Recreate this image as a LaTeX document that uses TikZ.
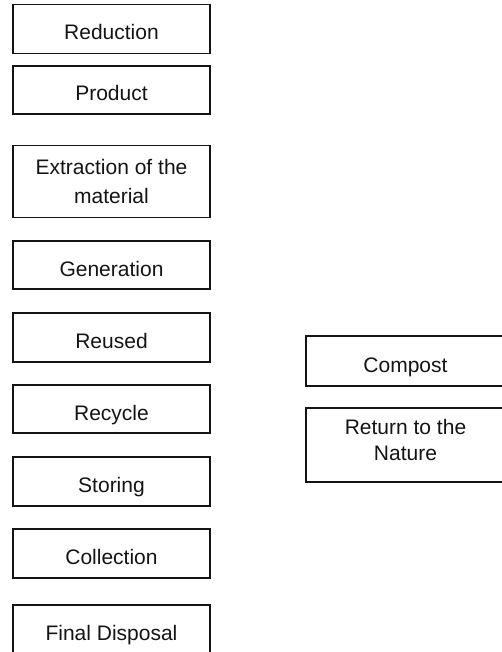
\documentclass[tikz,border=0pt]{standalone}
\usepackage{fontspec}
\setmainfont{Liberation Sans}
\begin{document}
\begin{tikzpicture}[x=1pt,y=-1pt,
  stage/.style={draw=black!92, line width=1.6pt, inner sep=0pt,
    minimum width=197pt, minimum height=49pt, align=center,
    font=\fontsize{21pt}{28pt}\selectfont, text=black!92},
  % single-line labels sit with their baseline 11pt below the box centre
  oneline/.style={text height=22pt, text depth=0pt},
  openstage/.style={stage, draw=none},
  edge/.style={draw=black!92, line width=1.6pt}]
  \useasboundingbox (0,0) rectangle (502,652);
  \clip (0,0) rectangle (502,652);
  % left column
  \node[stage, oneline] (reduction) at (111.5,29) {Reduction};
  \node[stage, oneline, minimum height=48pt] (product) at (111.5,90) {Product};
  \node[stage, minimum height=72pt, font=\fontsize{21pt}{29pt}\selectfont]
    (extraction) at (111.5,181.5) {Extraction of the\\material};
  \node[stage, oneline, minimum height=48pt] (generation) at (111.5,265) {Generation};
  \node[stage, oneline] (reused) at (111.5,337.5) {Reused};
  \node[stage, oneline, minimum height=48pt] (recycle) at (111.5,409) {Recycle};
  \node[stage, oneline] (storing) at (111.5,481.5) {Storing};
  \node[stage, oneline] (collection) at (111.5,553.5) {Collection};
  \node[stage, oneline] (disposal) at (111.5,629.5) {Final Disposal};
  % right column, boxes open on the right
  \node[openstage, oneline, minimum height=48pt] (compost) at (405.5,361) {Compost};
  \node[openstage, minimum height=72pt, font=\fontsize{21pt}{26pt}\selectfont]
    (nature) at (405.5,445) {Return to the\\Nature\rule[-11pt]{0pt}{0pt}};
  \draw[edge] (compost.north east) -- (compost.north west)
    -- (compost.south west) -- (compost.south east);
  \draw[edge] (nature.north east) -- (nature.north west)
    -- (nature.south west) -- (nature.south east);
\end{tikzpicture}
\end{document}
